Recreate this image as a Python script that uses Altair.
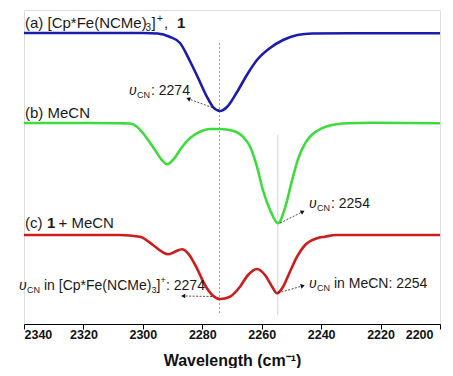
import altair as alt
import pandas as pd

# ---------------- data ----------------
blue_w = [2340, 2320, 2300, 2295, 2291, 2287.5, 2284, 2281.4, 2278.4, 2276.4, 2274, 2271.7,
          2268.3, 2265, 2261.6, 2257.2, 2252.8, 2248, 2243, 2230, 2200]
blue_v = [291, 291, 291, 290.5, 287.3, 281, 262, 246, 227, 217, 213, 217,
          232, 249, 264, 276, 284, 289, 290.5, 290.7, 290.7]

green_w = [2340, 2320, 2307.7, 2304.3, 2302, 2300, 2296.6, 2293.6, 2291.9, 2289.9, 2286.8,
           2284.1, 2280.8, 2277.4, 2274, 2269.7, 2266.3, 2263.9, 2261.6, 2259.6, 2257.2,
           2254.5, 2252.2, 2249.9, 2247.7, 2245.4, 2243.2, 2239.8, 2236.4, 2231, 2223, 2200]
green_v = [201, 201, 200.7, 200.5, 197.3, 191, 177, 164, 159.7, 164, 177,
           186, 192.3, 195, 195, 193.3, 187.3, 177.3, 157.3, 134, 114,
           100.7, 115.7, 142.3, 165.7, 180.7, 189, 195.7, 199, 200.7, 201.3, 200.7]

red_w = [2340, 2320, 2307.7, 2301.0, 2296.6, 2293.6, 2291.5, 2289.2, 2286.8, 2284.8, 2281.8,
         2279.1, 2276.4, 2274.0, 2270.7, 2267.3, 2264.6, 2261.6, 2258.9, 2256.5, 2254.9,
         2252.8, 2250.5, 2248.1, 2245.4, 2241.4, 2238.7, 2235, 2220, 2200]
red_v = [89, 89, 89, 87.3, 79, 72.3, 69.7, 72.3, 74.7, 70.7, 55.7,
         39, 28.3, 25, 27.3, 37.3, 49, 55, 49, 37.3, 30.7,
         37.3, 52.3, 67.3, 79, 85.7, 87.3, 89, 89, 89]

series_names = ["a", "b", "c"]
series_colors = ["#1c1cac", "#3ddc3d", "#cc1c1c"]

tick_values = list(range(2340, 2199, -10))

# reference lines
dotted_w = [2274.2]
dotted_top = [281]
solid_w = [2254.6]
solid_top = [189]
line_bottom = 9

# arrows (tail on the curve, head at the label)
arr_tail_w = [2274.4, 2253.8, 2276.7, 2254.5]
arr_tail_v = [214, 101, 27.5, 31]
arr_head_w = [2284.5, 2246.4, 2286.2, 2246.4]
arr_head_v = [225, 112, 28, 38]
arr_angle = [290, 63, 271, 74]

# text pieces: text, x (cm-1), y, style
txt_text = ["(a) [Cp*Fe(NCMe)", "3", "]", "+", ",", "1",
            "(b) MeCN",
            "(c)", "1", "+ MeCN",
            "\u03c5", "CN", ": 2274",
            "\u03c5", "CN", ": 2254",
            "\u03c5", "CN", "in [Cp*Fe(NCMe)", "3", "]", "+", ": 2274",
            "\u03c5", "CN", "in MeCN: 2254"]
txt_w = [2339.66, 2299.1, 2297.1, 2295.2, 2292.9, 2288.5,
         2339.66,
         2339.66, 2332.26, 2328.4,
         2304.66, 2301.97, 2297.26,
         2244.09, 2241.39, 2236.68,
         2341.68, 2338.99, 2333.27, 2297.09, 2295.41, 2294.06, 2292.21,
         2244.09, 2241.39, 2235.67]
txt_v = [296, 293, 296, 302, 296, 296,
         206,
         96, 96, 96,
         229, 226, 229,
         116, 113, 116,
         34, 31, 34, 31, 34, 41, 34,
         36, 33, 36]
txt_style = ["big", "bigsub", "big", "bigsub", "big", "bigbold",
             "big",
             "big", "bigbold", "big",
             "ital", "sub", "ann",
             "ital", "sub", "ann",
             "ital", "sub", "ann", "sub", "ann", "sub", "ann",
             "ital", "sub", "ann"]

# ---------------- frames ----------------
curves = pd.concat([
    pd.DataFrame({"w": blue_w, "v": blue_v, "s": "a"}),
    pd.DataFrame({"w": green_w, "v": green_v, "s": "b"}),
    pd.DataFrame({"w": red_w, "v": red_v, "s": "c"}),
])
texts = pd.DataFrame({"t": txt_text, "w": txt_w, "v": txt_v, "st": txt_style})
arrows = pd.DataFrame({"w": arr_tail_w, "v": arr_tail_v, "w2": arr_head_w,
                       "v2": arr_head_v, "ang": arr_angle})
dotted = pd.DataFrame({"w": dotted_w, "v": dotted_top, "v2": [line_bottom] * len(dotted_w)})
solid = pd.DataFrame({"w": solid_w, "v": solid_top, "v2": [line_bottom] * len(solid_w)})

FONT = "Liberation Sans"
xs = alt.Scale(domain=[2340, 2200], nice=False, zero=False)
ys = alt.Scale(domain=[0, 314], nice=False, zero=False)

x_axis = alt.Axis(
    values=tick_values, format="d",
    labelExpr="datum.value % 20 == 0 ? datum.label : ''",
    tickSize={"condition": {"test": "datum.value % 20 == 0", "value": 5}, "value": 3},
    labelOffset={"condition": {"test": "datum.value == 2200", "value": -7}, "value": 0},
    tickColor="#000", tickWidth=1, domainColor="#000", domainWidth=1,
    labelFont=FONT, labelFontSize=12.5, labelFontWeight="bold", labelColor="#111",
    labelPadding=-1, grid=False,
    title="Wavelength (cm\u207b\u00b9)", titleFont=FONT, titleFontSize=16,
    titleFontWeight="bold", titleColor="#111", titleBaseline="alphabetic", titleY=41.5,
)

X = alt.X("w:Q", scale=xs, axis=x_axis)
Y = alt.Y("v:Q", scale=ys, axis=None)

lines = alt.Chart(curves).mark_line(strokeWidth=2.6, interpolate="monotone").encode(
    x=X, y=Y,
    color=alt.Color("s:N", scale=alt.Scale(domain=series_names, range=series_colors), legend=None),
)

dot_layer = alt.Chart(dotted).mark_rule(color="#9a9a9a", strokeWidth=1, strokeDash=[2, 2]).encode(
    x=alt.X("w:Q", scale=xs), y=Y, y2="v2:Q")
solid_layer = alt.Chart(solid).mark_rule(color="#d4d4d4", strokeWidth=1).encode(
    x=alt.X("w:Q", scale=xs), y=Y, y2="v2:Q")

arrow_lines = alt.Chart(arrows).mark_rule(color="#222", strokeWidth=0.8, strokeDash=[2, 1.5]).encode(
    x=alt.X("w:Q", scale=xs), y=Y, x2="w2:Q", y2="v2:Q")
arrow_heads = alt.Chart(arrows).mark_point(shape="triangle", filled=True, size=22, color="#111", opacity=1).encode(
    x=alt.X("w2:Q", scale=xs), y=alt.Y("v2:Q", scale=ys), angle=alt.Angle("ang:Q", scale=None))

def text_layer(style, size, weight="normal", italic=False):
    kw = dict(font=FONT, fontSize=size, fontWeight=weight, align="left",
              baseline="alphabetic", color="#1a1a1a")
    if italic:
        kw["fontStyle"] = "italic"
    return alt.Chart(texts).transform_filter(alt.datum.st == style).mark_text(**kw).encode(
        x=alt.X("w:Q", scale=xs), y=alt.Y("v:Q", scale=ys), text="t:N")

layers = [
    dot_layer, solid_layer, lines, arrow_lines, arrow_heads,
    text_layer("big", 15), text_layer("bigbold", 15, "bold"), text_layer("bigsub", 10),
    text_layer("ann", 14), text_layer("ital", 14, italic=True), text_layer("sub", 9),
]

chart = alt.layer(*layers).properties(
    width=416, height=314,
    autosize=alt.AutoSizeParams(type="none"),
    padding={"left": 16, "top": 2, "right": 5, "bottom": 44},
).configure_view(stroke=None).configure(background="white")

chart.save("out.html", embed_options={"renderer": "svg", "actions": False})
